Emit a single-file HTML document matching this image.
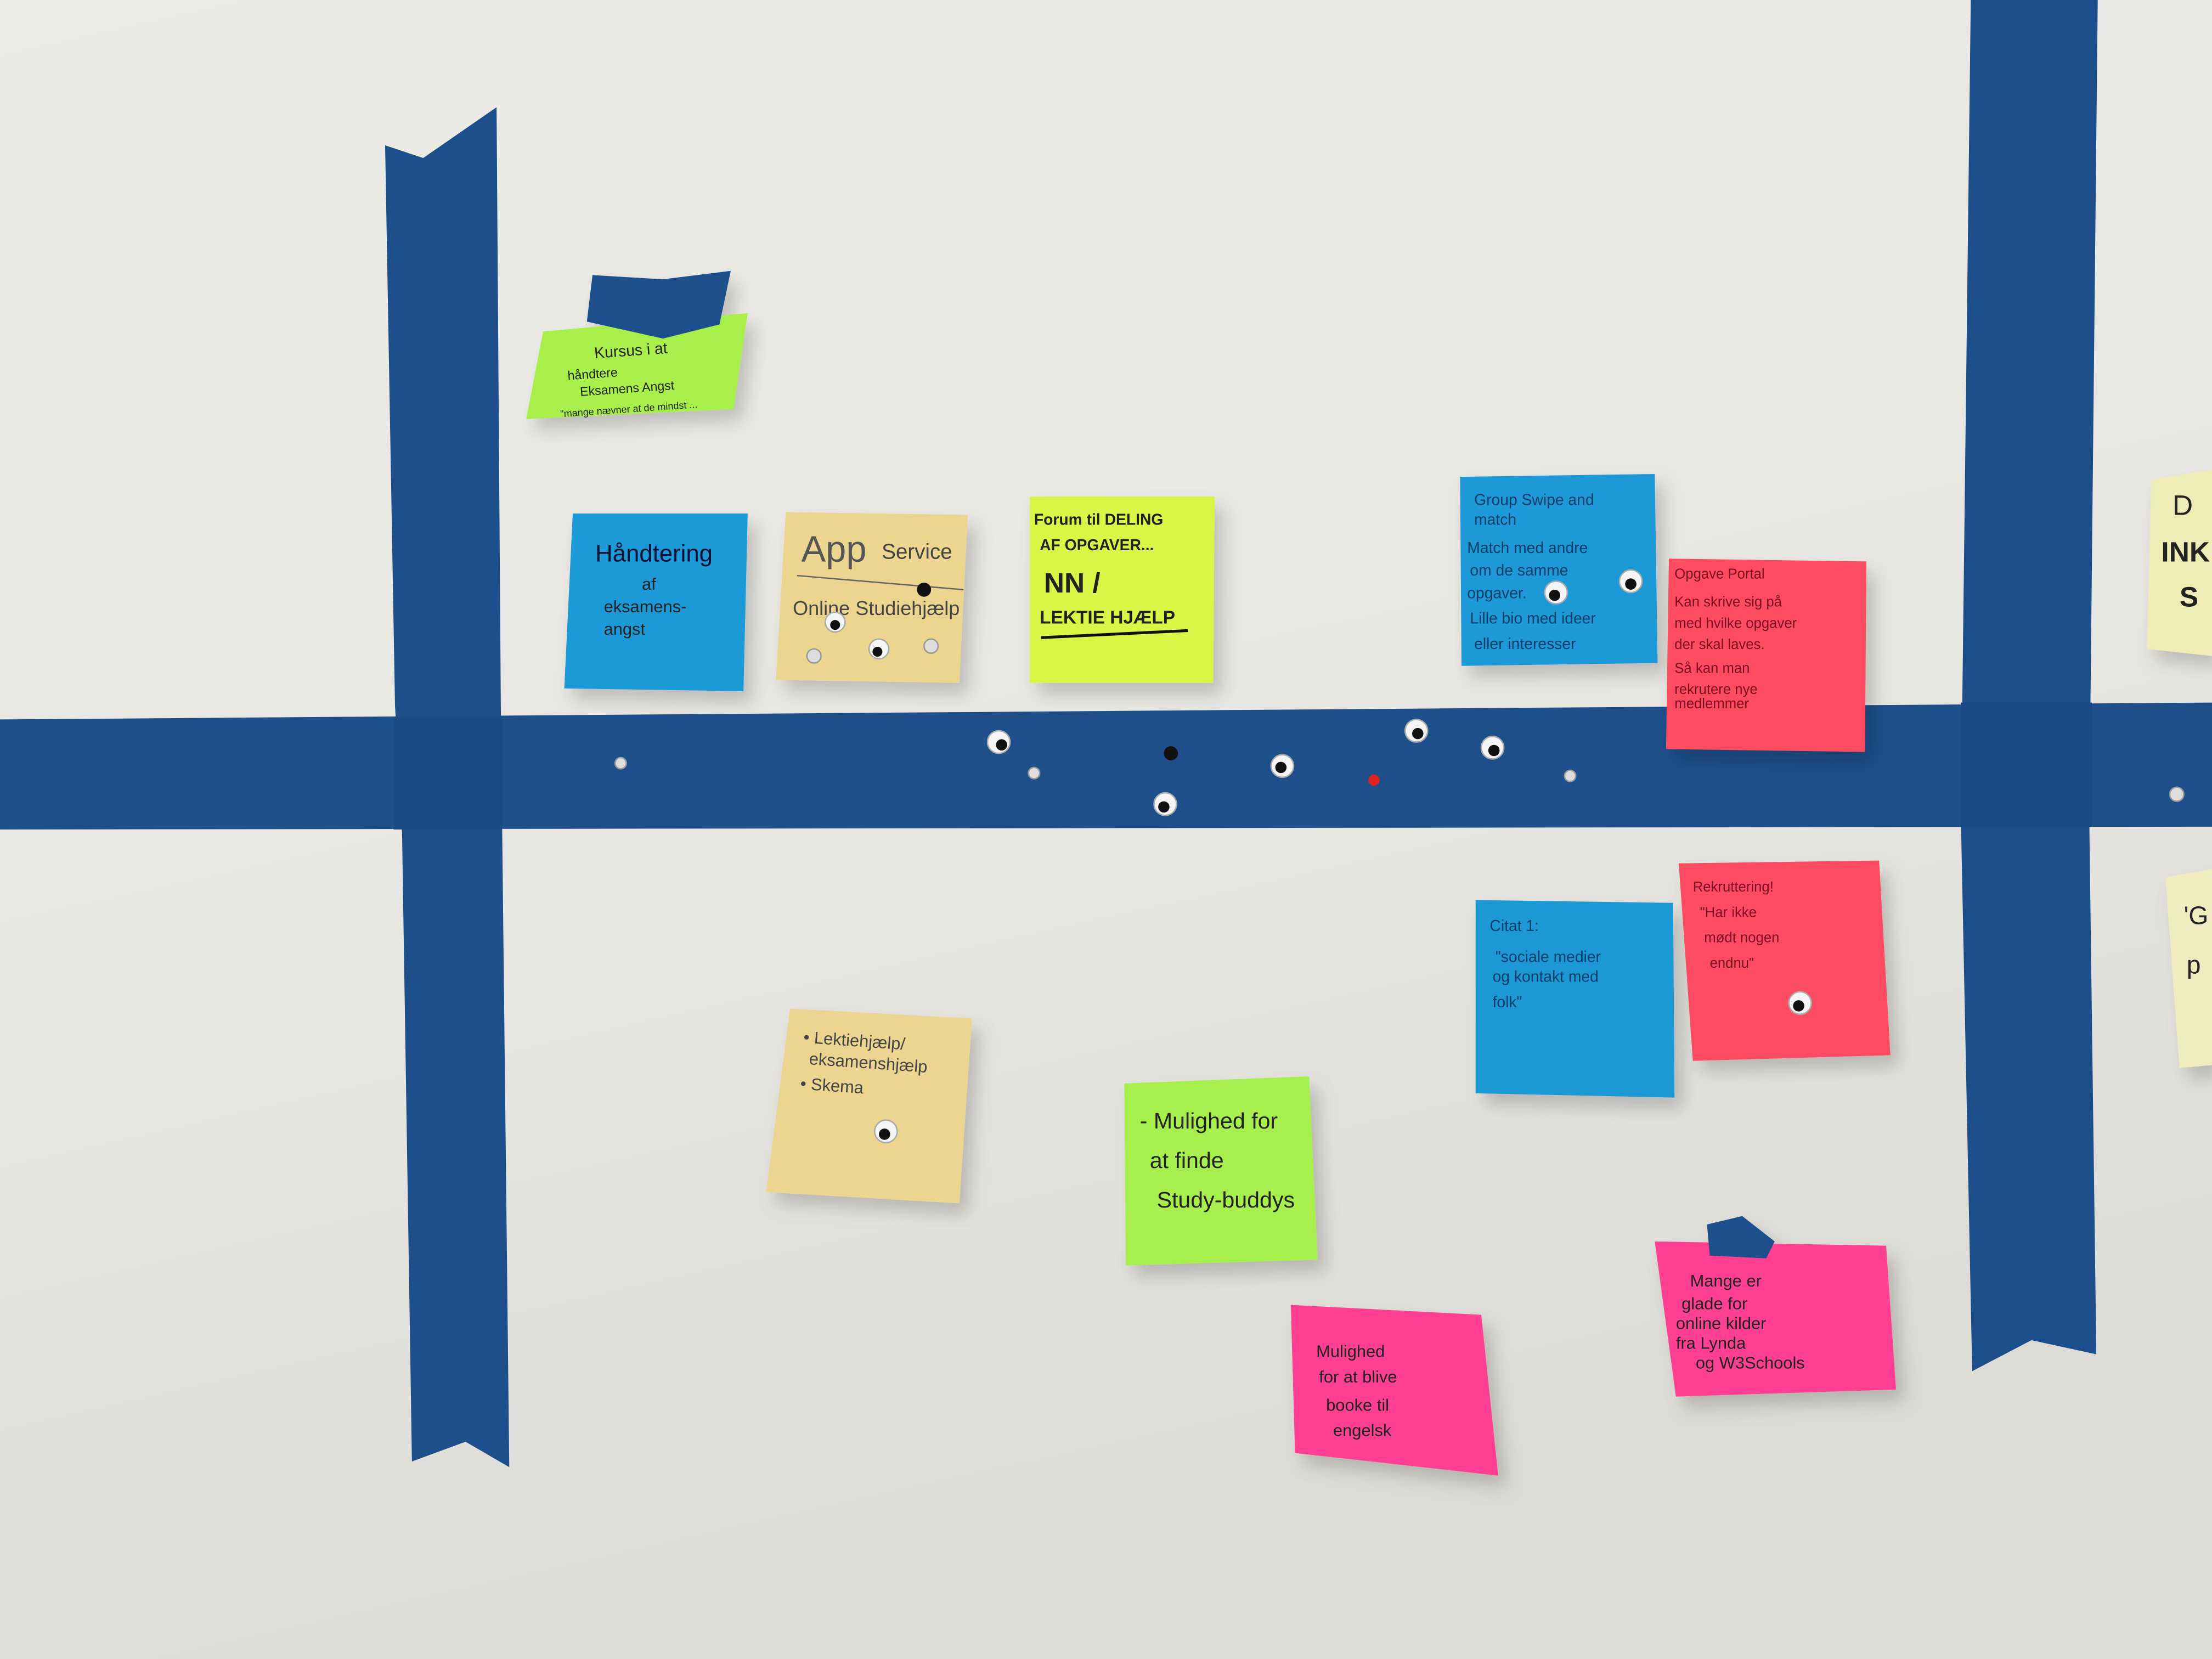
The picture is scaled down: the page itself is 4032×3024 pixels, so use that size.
<!DOCTYPE html>
<html><head><meta charset="utf-8"><style>
html,body{margin:0;padding:0;width:4032px;height:3024px;overflow:hidden;background:#e9e7e2}
svg{display:block}
text{font-family:"Liberation Sans",sans-serif}
</style></head><body>
<svg width="4032" height="3024" viewBox="0 0 1568 1176" xmlns="http://www.w3.org/2000/svg">
<defs>
<linearGradient id="bg" x1="0" y1="0" x2="0.3" y2="1">
<stop offset="0" stop-color="#edebe6"/><stop offset="0.6" stop-color="#e8e6e1"/><stop offset="1" stop-color="#dddbd6"/>
</linearGradient>
<filter id="sh" x="-20%" y="-20%" width="150%" height="150%"><feDropShadow dx="6" dy="8" stdDeviation="6" flood-color="#000" flood-opacity="0.18"/></filter>
</defs>
<rect width="1568" height="1176" fill="url(#bg)"/>
<!-- tapes -->
<polygon points="273,103 300,112 352,76 355,500 361,1040 330,1022 292,1036 285,590 280,500" fill="#1d4f8c"/>
<polygon points="0,510 1568,498 1568,586 0,588" fill="#1e4f8b"/>
<polygon points="1397,0 1487,0 1481,580 1486,960 1440,950 1398,972 1390,580" fill="#1c4e8b"/>
<rect x="279" y="509" width="77" height="79" fill="#1a4a84"/>
<rect x="1390" y="498" width="93" height="88" fill="#1a4a84"/>
<!-- notes -->
<g filter="url(#sh)">
<polygon points="385,235 530,222 520,290 373,297" fill="#a8ef4c"/>
<polygon points="420,195 470,198 518,192 510,230 470,240 416,228" fill="#1d4f8c"/>
<polygon points="406,364 530,364 527,490 400,488" fill="#1a9ad7"/>
<polygon points="557,363 686,365 680,484 550,482" fill="#ebd58f"/>
<polygon points="730,352 861,352 860,484 730,484" fill="#d9f545"/>
<polygon points="1035,338 1173,336 1175,470 1036,472" fill="#1c99d6"/>
<polygon points="1183,396 1323,398 1322,533 1181,531" fill="#fd4b5f"/>
<polygon points="1046,638 1186,640 1187,778 1046,775" fill="#1b98d5"/>
<polygon points="1190,612 1332,610 1340,748 1200,752" fill="#fd4b62"/>
<polygon points="560,715 689,722 680,853 543,845" fill="#ecd590"/>
<polygon points="797,768 928,763 934,893 798,897" fill="#a6ef4e"/>
<polygon points="915,925 1050,932 1062,1046 918,1030" fill="#ff3f92"/>
<polygon points="1173,880 1337,883 1344,985 1188,990" fill="#ff4192"/>
<polygon points="1210,868 1235,862 1258,880 1252,892 1212,890" fill="#1d4f8c"/>
<polygon points="1525,340 1568,333 1568,465 1522,460" fill="#efedb6"/>
<polygon points="1535,622 1568,616 1568,755 1545,757" fill="#efedc0"/>
</g>
<!-- text -->
<g fill="#222" font-size="11">
<text x="422" y="252" transform="rotate(-4 450 260)">Kursus i at</text>
<text x="402" y="266" transform="rotate(-4 450 260)" font-size="9">håndtere</text>
<text x="410" y="278" transform="rotate(-4 450 260)" font-size="9">Eksamens Angst</text>
<text x="395" y="292" transform="rotate(-4 450 260)" font-size="7">"mange nævner at de mindst ...</text>
<text x="422" y="398" font-size="17" fill="#113">Håndtering</text>
<text x="455" y="418" font-size="12">af</text>
<text x="428" y="434" font-size="12">eksamens-</text>
<text x="428" y="450" font-size="12">angst</text>
<text x="568" y="398" font-size="26" fill="#555">App</text>
<text x="625" y="396" font-size="15" fill="#444">Service</text>
<line x1="565" y1="408" x2="683" y2="418" stroke="#666" stroke-width="1"/>
<text x="562" y="436" font-size="14" fill="#444">Online  Studiehjælp</text>
<text x="733" y="372" font-size="11" font-weight="bold">Forum til DELING</text>
<text x="737" y="390" font-size="11" font-weight="bold">AF OPGAVER...</text>
<text x="740" y="420" font-size="20" font-weight="bold">NN /</text>
<text x="737" y="442" font-size="13" font-weight="bold">LEKTIE HJÆLP</text>
<line x1="738" y1="452" x2="842" y2="447" stroke="#111" stroke-width="2"/>
<g fill="#0e3e6a" font-size="11">
<text x="1045" y="358">Group Swipe and</text><text x="1045" y="372">match</text>
<text x="1040" y="392">Match med andre</text><text x="1042" y="408">om de samme</text>
<text x="1040" y="424">opgaver.</text><text x="1042" y="442">Lille bio med ideer</text>
<text x="1045" y="460">eller interesser</text>
<text x="1056" y="660">Citat 1:</text><text x="1060" y="682">"sociale medier</text>
<text x="1058" y="696">og kontakt med</text><text x="1058" y="714">folk"</text>
</g>
<g fill="#7a1020" font-size="10">
<text x="1187" y="410">Opgave Portal</text><text x="1187" y="430">Kan skrive sig på</text>
<text x="1187" y="445">med hvilke opgaver</text><text x="1187" y="460">der skal laves.</text>
<text x="1187" y="477">Så kan man</text><text x="1187" y="492">rekrutere nye</text><text x="1187" y="502">medlemmer</text>
<text x="1200" y="632">Rekruttering!</text><text x="1205" y="650">"Har ikke</text>
<text x="1208" y="668">mødt nogen</text><text x="1212" y="686">endnu"</text>
</g>
<g fill="#444" font-size="12">
<text x="568" y="742" transform="rotate(4 610 760)">• Lektiehjælp/</text>
<text x="573" y="757" transform="rotate(4 610 760)">eksamenshjælp</text>
<text x="568" y="775" transform="rotate(4 610 760)">• Skema</text>
</g>
<g fill="#222" font-size="16">
<text x="808" y="800">- Mulighed for</text><text x="815" y="828">at finde</text><text x="820" y="856">Study-buddys</text>
</g>
<g fill="#222" font-size="12">
<text x="933" y="962">Mulighed</text><text x="935" y="980">for at blive</text>
<text x="940" y="1000">booke til</text><text x="945" y="1018">engelsk</text>
<text x="1198" y="912">Mange er</text><text x="1192" y="928">glade for</text>
<text x="1188" y="942">online kilder</text><text x="1188" y="956">fra Lynda</text><text x="1202" y="970">og W3Schools</text>
</g>
<text x="1540" y="365" font-size="20" fill="#222">D</text>
<text x="1532" y="398" font-size="20" font-weight="bold" fill="#222">INK</text>
<text x="1545" y="430" font-size="20" font-weight="bold" fill="#222">S</text>
<text x="1548" y="655" font-size="18" fill="#222">'G</text>
<text x="1550" y="690" font-size="18" fill="#222">p</text>
</g>
<!-- googly eyes & pins -->
<g>
<g fill="#f5f5f5" stroke="#aaa" stroke-width="1">
<circle cx="708" cy="526" r="8"/><circle cx="1004" cy="518" r="8"/><circle cx="1058" cy="530" r="8"/>
<circle cx="909" cy="543" r="8"/><circle cx="826" cy="570" r="8"/>
<circle cx="592" cy="441" r="7"/><circle cx="623" cy="460" r="7"/><circle cx="1103" cy="420" r="8"/>
<circle cx="1156" cy="412" r="8"/><circle cx="1276" cy="711" r="8"/><circle cx="628" cy="802" r="8"/>
</g>
<g fill="#111">
<circle cx="710" cy="528" r="4"/><circle cx="1005" cy="520" r="4"/><circle cx="1059" cy="532" r="4"/>
<circle cx="908" cy="544" r="4"/><circle cx="825" cy="572" r="4"/><circle cx="592" cy="443" r="3.5"/>
<circle cx="622" cy="462" r="3.5"/><circle cx="1102" cy="422" r="4"/><circle cx="1156" cy="414" r="4"/>
<circle cx="1275" cy="713" r="4"/><circle cx="627" cy="804" r="4"/>
<circle cx="655" cy="418" r="5"/><circle cx="830" cy="534" r="5"/>
</g>
<g fill="#ddd" stroke="#999" stroke-width="1">
<circle cx="440" cy="541" r="4"/><circle cx="733" cy="548" r="4"/><circle cx="1113" cy="550" r="4"/>
<circle cx="1543" cy="563" r="5"/><circle cx="577" cy="465" r="5"/><circle cx="660" cy="458" r="5"/>
</g>
<circle cx="974" cy="553" r="4" fill="#d22"/>
</g>
</svg>
</body></html>
